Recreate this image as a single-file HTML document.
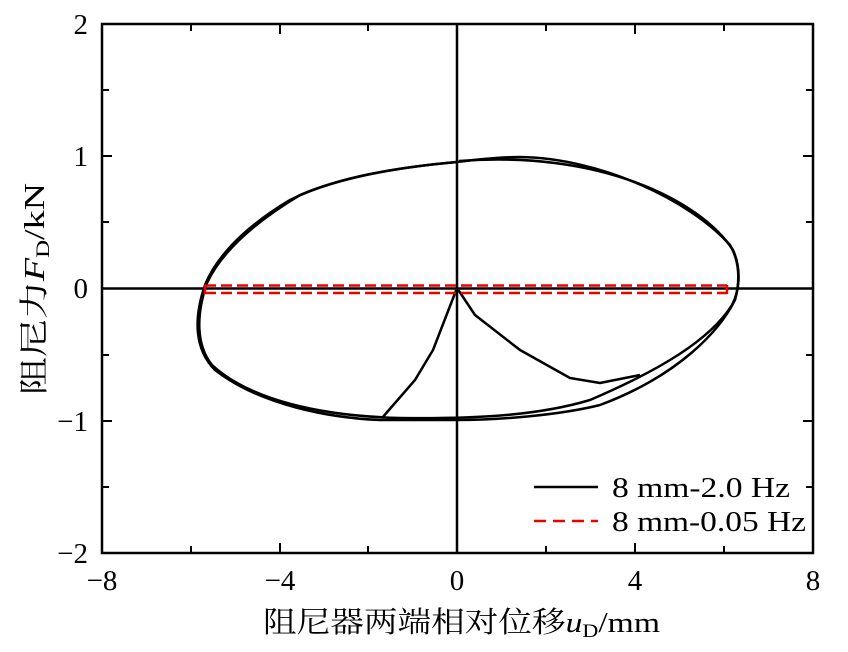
<!DOCTYPE html>
<html><head><meta charset="utf-8"><style>
body{margin:0;background:#fff}
svg{display:block}
text{font-family:"Liberation Serif","Noto Serif CJK SC",serif;font-size:29px;fill:#000}
</style></head><body>
<svg width="848" height="652" viewBox="0 0 848 652">
<g stroke="#000" stroke-width="2.5" fill="none">
<rect x="102" y="24" width="711" height="529"/>
<line x1="102" y1="288.5" x2="813" y2="288.5"/>
<line x1="457" y1="24" x2="457" y2="553"/>
</g>
<g stroke="#000" stroke-width="2">
<line x1="191" y1="553" x2="191" y2="546"/><line x1="280" y1="553" x2="280" y2="543"/>
<line x1="368" y1="553" x2="368" y2="546"/><line x1="546" y1="553" x2="546" y2="546"/>
<line x1="635" y1="553" x2="635" y2="543"/><line x1="724" y1="553" x2="724" y2="546"/>
<line x1="191" y1="24" x2="191" y2="31"/><line x1="280" y1="24" x2="280" y2="34"/>
<line x1="368" y1="24" x2="368" y2="31"/><line x1="546" y1="24" x2="546" y2="31"/>
<line x1="635" y1="24" x2="635" y2="34"/><line x1="724" y1="24" x2="724" y2="31"/>
<line x1="102" y1="90" x2="109" y2="90"/><line x1="102" y1="156" x2="112" y2="156"/>
<line x1="102" y1="222" x2="109" y2="222"/><line x1="102" y1="355" x2="109" y2="355"/>
<line x1="102" y1="421" x2="112" y2="421"/><line x1="102" y1="487" x2="109" y2="487"/>
<line x1="813" y1="90" x2="806" y2="90"/><line x1="813" y1="156" x2="803" y2="156"/>
<line x1="813" y1="222" x2="806" y2="222"/><line x1="813" y1="355" x2="806" y2="355"/>
<line x1="813" y1="421" x2="803" y2="421"/><line x1="813" y1="487" x2="806" y2="487"/>
</g>
<g stroke="#000" stroke-width="2.5" fill="none" stroke-linejoin="round">
<path d="M457,162 C480,159 500,157 520,157 C600,158 690,200 730,245 C740,262 740,282 735,300 C720,330 680,375 600,405 C560,415 500,420 457,420 L380,420 C330,418 260,405 215,370 C195,350 193,320 205,285 C215,260 240,230 290,200 C330,180 390,168 457,162 Z"/>
<path d="M459,161 C600,150 700,200 733,250 C742,270 739,292 732,305 C710,340 660,370 590,400 C540,415 480,419 400,418 C320,416 250,400 212,365 C196,345 196,315 207,283 C220,255 250,225 300,195 C340,178 390,168 457,162"/>
<path d="M457,288 L433,350 L415,380 L382,418"/>
<path d="M457,288 L475,315 L520,350 L570,378 L600,383 L640,375"/>
</g>
<g stroke="#e00" stroke-width="2.5" fill="none" stroke-dasharray="11,5">
<line x1="205" y1="285.5" x2="727" y2="285.5"/>
<line x1="205" y1="293" x2="727" y2="293"/>
</g>
<g stroke="#e00" stroke-width="2.5"><line x1="205" y1="285" x2="205" y2="294"/><line x1="727" y1="285" x2="727" y2="294"/></g>
<g text-anchor="end">
<text x="88" y="34">2</text><text x="88" y="166">1</text><text x="88" y="298">0</text>
<text x="88" y="431">−1</text><text x="88" y="563">−2</text>
</g>
<g text-anchor="middle">
<text x="102" y="590">−8</text><text x="280" y="590">−4</text><text x="457" y="590">0</text>
<text x="635" y="590">4</text><text x="813" y="590">8</text>
</g>
<text x="263" y="632" textLength="397" lengthAdjust="spacingAndGlyphs">阻尼器两端相对位移<tspan font-style="italic">u</tspan><tspan font-size="19" dy="5">D</tspan><tspan dy="-5">/mm</tspan></text>
<text transform="translate(44,395) rotate(-90)" textLength="212" lengthAdjust="spacingAndGlyphs">阻尼力<tspan font-style="italic">F</tspan><tspan font-size="19" dy="5">D</tspan><tspan dy="-5">/kN</tspan></text>
<line x1="534" y1="487" x2="598" y2="487" stroke="#000" stroke-width="2.5"/>
<line x1="534" y1="521" x2="598" y2="521" stroke="#e00" stroke-width="2.5" stroke-dasharray="12,7"/>
<text x="612" y="497" textLength="178" lengthAdjust="spacingAndGlyphs">8 mm-2.0 Hz</text>
<text x="612" y="531" textLength="194" lengthAdjust="spacingAndGlyphs">8 mm-0.05 Hz</text>
</svg>
</body></html>
